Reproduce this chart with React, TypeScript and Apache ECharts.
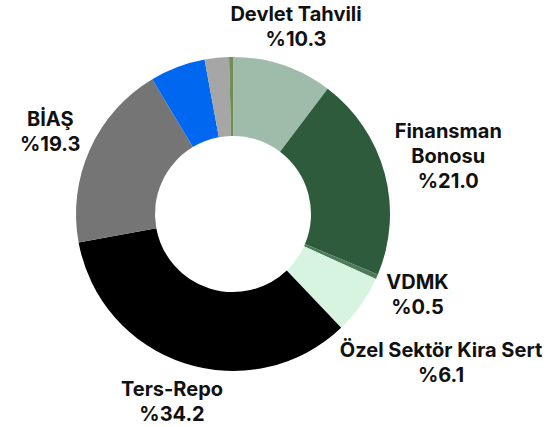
import React, { useEffect, useRef } from "react";
import * as echarts from "echarts";

const categories = [
  "Devlet Tahvili",
  "Finansman\nBonosu",
  "VDMK",
  "Özel Sektör Kira Sert",
  "Ters-Repo",
  "BİAŞ",
  "Diğer 1",
  "Diğer 2",
  "Diğer 3",
];
const values = [10.3, 21.0, 0.5, 6.1, 34.2, 19.3, 5.7, 2.5, 0.4];
const showLabel = [true, true, true, true, true, true, false, false, false];
const colors = [
  "#9ebca9",
  "#2e5b3c",
  "#4c7a5a",
  "#d6f4e0",
  "#000000",
  "#757575",
  "#0068f0",
  "#a6a6a6",
  "#6f8f55",
];

const CENTER: [number, number] = [233, 214];
const RADIUS: [number, number] = [78, 157];
const LABEL_GAP = 6;

export default function App() {
  const ref = useRef<HTMLDivElement>(null);

  useEffect(() => {
    if (!ref.current) return;
    const chart = echarts.init(ref.current, undefined, { renderer: "svg" });

    const labelLayout = (params: any) => {
      try {
        const data = (chart as any).getModel().getSeriesByIndex(0).getData();
        const lay = data.getItemLayout(params.dataIndex);
        const mid = (lay.startAngle + lay.endAngle) / 2;
        const ux = Math.cos(mid);
        const uy = Math.sin(mid);
        const hw = params.labelRect.width / 2;
        const hh = params.labelRect.height / 2;
        const target = lay.r + LABEL_GAP;
        const near = (d: number) => {
          const dx = Math.max(Math.abs(d * ux) - hw, 0);
          const dy = Math.max(Math.abs(d * uy) - hh, 0);
          return Math.hypot(dx, dy);
        };
        let lo = lay.r;
        let hi = lay.r + 400;
        for (let i = 0; i < 40; i++) {
          const m = (lo + hi) / 2;
          if (near(m) < target) lo = m;
          else hi = m;
        }
        const d = (lo + hi) / 2;
        return {
          x: lay.cx + d * ux,
          y: lay.cy + d * uy,
          align: "center",
          verticalAlign: "middle",
        };
      } catch (e) {
        return {};
      }
    };

    chart.setOption({
      animation: false,
      backgroundColor: "#ffffff",
      series: [
        {
          type: "pie",
          center: CENTER,
          radius: RADIUS,
          startAngle: 90,
          clockwise: true,
          avoidLabelOverlap: false,
          silent: true,
          itemStyle: { borderWidth: 0 },
          label: {
            show: true,
            position: "inside",
            color: "#111111",
            fontFamily: "Inter, Roboto, 'Noto Sans', sans-serif",
            fontWeight: "bold",
            fontSize: 20,
            lineHeight: 25,
            textBorderWidth: 0,
            align: "center",
            formatter: (p: any) => `${p.name}\n%${Number(p.value).toFixed(1)}`,
          },
          labelLine: { show: false },
          labelLayout,
          data: categories.map((name, i) => ({
            name,
            value: values[i],
            itemStyle: { color: colors[i] },
            label: { show: showLabel[i] },
          })),
        },
      ],
    });

    return () => chart.dispose();
  }, []);

  return (
    <div
      ref={ref}
      style={{
        position: "absolute",
        left: 0,
        top: 0,
        width: 549,
        height: 427,
        background: "#ffffff",
      }}
    />
  );
}
